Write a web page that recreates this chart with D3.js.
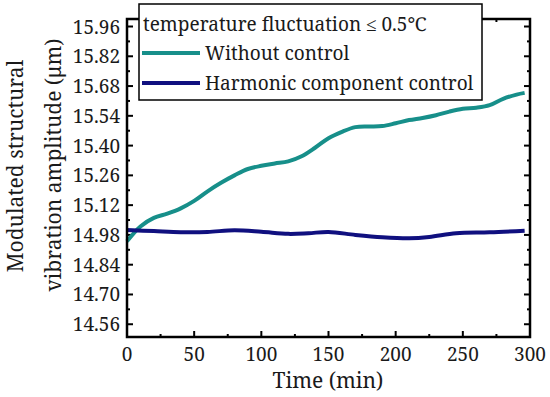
<!DOCTYPE html>
<html>
<head>
<meta charset="utf-8">
<script src="https://cdn.jsdelivr.net/npm/d3@7"></script>
<style>
  body { margin: 0; background: #fff; }
</style>
</head>
<body>
<svg width="550" height="397" font-family="Noto Serif, Liberation Serif, serif"></svg>
<script>
// time (min) and amplitude (um)
const timeWithout = [0, 10, 20, 30, 40, 50, 60, 70, 80, 90, 100, 110, 120, 130, 140, 150,
  160, 170, 180, 190, 200, 210, 220, 230, 240, 250, 260, 270, 280, 290, 296];
const ampWithout = [14.95, 15.02, 15.06, 15.08, 15.105, 15.14, 15.185, 15.225, 15.26, 15.29, 15.305,
  15.316, 15.326, 15.35, 15.39, 15.435, 15.465, 15.487, 15.49, 15.492, 15.505, 15.52, 15.53,
  15.543, 15.56, 15.573, 15.578, 15.59, 15.62, 15.64, 15.648];

const timeHarmonic = [0, 20, 40, 60, 80, 100, 120, 135, 150, 170, 190, 210, 225, 245, 270, 296];
const ampHarmonic = [15.003, 14.998, 14.993, 14.994, 15.002, 14.995, 14.985, 14.988, 14.994,
  14.98, 14.969, 14.964, 14.97, 14.988, 14.992, 15.0];

const xTicks = [0, 50, 100, 150, 200, 250, 300];
const yTicks = [14.56, 14.70, 14.84, 14.98, 15.12, 15.26, 15.40, 15.54, 15.68, 15.82, 15.96];

const seriesNames = ["Without control", "Harmonic component control"];
const seriesColors = ["#178f8a", "#10107f"];
const legendTitle = "temperature fluctuation \u2264 0.5\u2103";

const svg = d3.select("svg");
const plotLeft = 127, plotRight = 530, plotTop = 19, plotBottom = 337;
const textColor = "#1a1a1a";

const x = d3.scaleLinear().domain([0, 300]).range([plotLeft, plotRight]);
const y = d3.scaleLinear().domain([14.5, 16.0]).range([plotBottom, plotTop - 1]);

// minor ticks halfway between majors
const xMinor = d3.range(25, 300, 50);
const yMinor = yTicks.map(v => v + 0.07).filter(v => v < 16.0);

const g = svg.append("g");

function drawTicks(axis, ticks, len) {
  ticks.forEach(v => {
    if (axis == "x") {
      g.append("line").attr("x1", x(v)).attr("x2", x(v)).attr("y1", plotBottom).attr("y2", plotBottom - len)
        .attr("stroke", "#000").attr("stroke-width", 2);
      g.append("line").attr("x1", x(v)).attr("x2", x(v)).attr("y1", plotTop).attr("y2", plotTop + len)
        .attr("stroke", "#000").attr("stroke-width", 2);
    } else {
      g.append("line").attr("y1", y(v)).attr("y2", y(v)).attr("x1", plotLeft).attr("x2", plotLeft + len)
        .attr("stroke", "#000").attr("stroke-width", 2);
      g.append("line").attr("y1", y(v)).attr("y2", y(v)).attr("x1", plotRight).attr("x2", plotRight - len)
        .attr("stroke", "#000").attr("stroke-width", 2);
    }
  });
}

drawTicks("x", xTicks.slice(1, -1), 6);
drawTicks("x", xMinor, 3);
drawTicks("y", yTicks, 6);
drawTicks("y", yMinor, 3);

const line = d3.line().curve(d3.curveCatmullRom).x(d => x(d[0])).y(d => y(d[1]));

const plot = svg.append("g");
plot.append("path")
  .datum(timeWithout.map((t, i) => [t, ampWithout[i]]))
  .attr("d", line).attr("fill", "none")
  .attr("stroke", seriesColors[0]).attr("stroke-width", 4);
plot.append("path")
  .datum(timeHarmonic.map((t, i) => [t, ampHarmonic[i]]))
  .attr("d", line).attr("fill", "none")
  .attr("stroke", seriesColors[1]).attr("stroke-width", 4);

// frame
svg.append("rect").attr("x", plotLeft).attr("y", plotTop)
  .attr("width", plotRight - plotLeft).attr("height", plotBottom - plotTop)
  .attr("fill", "none").attr("stroke", "#000").attr("stroke-width", 2.5);

// tick labels
svg.append("g").selectAll("text").data(xTicks).join("text")
  .attr("x", d => x(d)).attr("y", 361).attr("text-anchor", "middle")
  .attr("font-size", 19).attr("fill", textColor).text(d => d);
svg.append("g").selectAll("text").data(yTicks).join("text")
  .attr("x", 120).attr("y", d => y(d) + 7).attr("text-anchor", "end")
  .attr("font-size", 19).attr("fill", textColor).text(d => d.toFixed(2));

// axis titles
svg.append("text").attr("x", 328).attr("y", 388).attr("text-anchor", "middle")
  .attr("font-size", 21).attr("fill", textColor).text("Time (min)");
svg.append("text").attr("transform", "translate(23,166) rotate(-90)").attr("text-anchor", "middle")
  .attr("font-size", 21).attr("fill", textColor).text("Modulated structural");
svg.append("text").attr("transform", "translate(61,165) rotate(-90)").attr("text-anchor", "middle")
  .attr("font-size", 21).attr("fill", textColor).text("vibration amplitude (\u03bcm)");

// legend
const lg = svg.append("g");
lg.append("rect").attr("x", 139).attr("y", 4).attr("width", 343).attr("height", 96)
  .attr("fill", "#fff").attr("stroke", "#000").attr("stroke-width", 1.5);
lg.append("text").attr("x", 143).attr("y", 31).attr("font-size", 19)
  .attr("fill", textColor).text(legendTitle);
seriesNames.forEach((name, i) => {
  const ly = 53 + i * 30;
  lg.append("line").attr("x1", 142).attr("x2", 200).attr("y1", ly).attr("y2", ly)
    .attr("stroke", seriesColors[i]).attr("stroke-width", 4);
  lg.append("text").attr("x", 205).attr("y", ly + 7).attr("font-size", 19)
    .attr("fill", textColor).text(name);
});
</script>
</body>
</html>
